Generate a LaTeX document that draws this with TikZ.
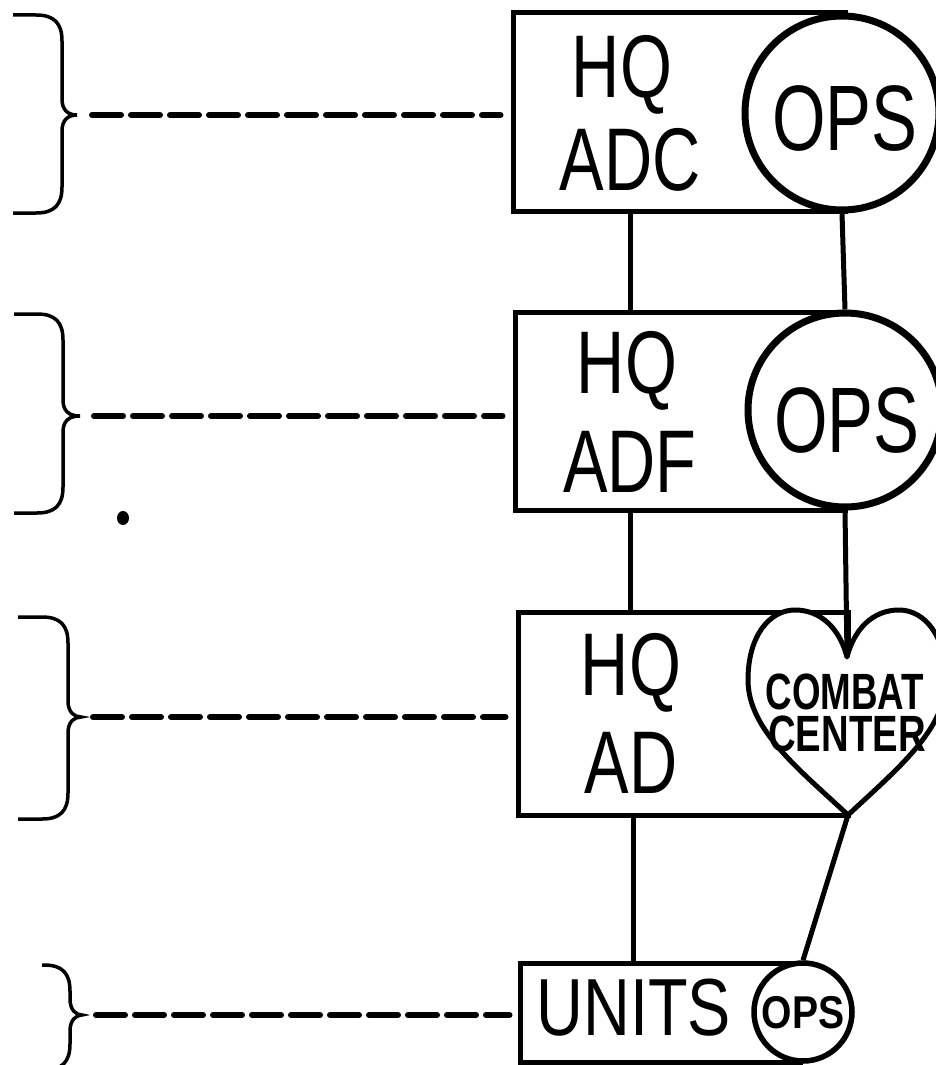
\documentclass[tikz,border=0pt]{standalone}
\usepackage{fontspec}
\usepackage{graphicx}
\setmainfont{Liberation Sans}
\newcommand\sq[2]{\scalebox{#1}[1]{#2}}
% brace: #1 left x, #2 vertical x, #3 tip x, #4 top y, #5 middle y, #6 bottom y, #7 name of tip
\newcommand\drawbrace[7]{%
  \draw[bracestyle] (#1,#4) -- ({#2-26},#4) .. controls ({#2-8},#4) and (#2,{#4+8}) .. (#2,{#4+26})
    -- (#2,{#5-16}) .. controls (#2,{#5-5}) and ({#2+6},#5) .. (#3,#5)
    .. controls ({#2+6},#5) and (#2,{#5+5}) .. (#2,{#5+16})
    -- (#2,{#6-26}) .. controls (#2,{#6-8}) and ({#2-8},#6) .. ({#2-26},#6) -- (#1,#6);
  \coordinate (#7) at (#3,#5);}
\begin{document}
\begin{tikzpicture}[x=1pt,y=-1pt,
  hqbox/.style={draw, line width=5pt, rectangle, inner sep=0pt},
  opscircle/.style={draw, line width=7pt, circle, fill=white, inner sep=0pt},
  link/.style={line width=5pt},
  dashlink/.style={line width=6pt, dash pattern=on 29pt off 10pt, line cap=round},
  bracestyle/.style={line width=3.5pt},
  big/.style={inner sep=0pt, anchor=base, font=\fontsize{89}{89}\selectfont},
  ops/.style={inner sep=0pt, anchor=base, font=\fontsize{93}{93}\selectfont},
  cc/.style={inner sep=0pt, anchor=base, font=\bfseries\fontsize{51}{51}\selectfont},
  units/.style={inner sep=0pt, anchor=base, font=\fontsize{81}{81}\selectfont},
  smallops/.style={inner sep=0pt, anchor=base, font=\bfseries\fontsize{46}{46}\selectfont},
  heartstyle/.style={draw, line width=5pt, fill=white, line join=round}
]
\useasboundingbox (0,0) rectangle (935,1065);

% column coordinates
\coordinate (colL) at (630,0);
\coordinate (colL2) at (633,0);

% boxes
\node[hqbox, minimum width=332pt, minimum height=198pt] (adcbox) at (679,112) {};
\node[hqbox, minimum width=330pt, minimum height=198pt] (adfbox) at (680,411) {};
\node[hqbox, minimum width=330pt, minimum height=203pt] (adbox) at (683,713.5) {};
\node[hqbox, minimum width=280pt, minimum height=99pt] (unitsbox) at (660,1012.5) {};

% circles
\node[opscircle, minimum size=194pt] (ops1) at (842,113) {};
\node[opscircle, minimum size=194pt] (ops2) at (845,410) {};
\node[opscircle, minimum size=98pt, line width=5.5pt] (ops4) at (803,1012) {};

% heart
\draw[heartstyle] (848,815) .. controls (800,770) and (748,730) .. (748,680)
  .. controls (748,635) and (770,610) .. (795,610)
  .. controls (822,610) and (840,630) .. (847,657)
  .. controls (854,630) and (872,610) .. (899,610)
  .. controls (924,610) and (946,635) .. (946,680)
  .. controls (946,730) and (896,770) .. (848,815) -- cycle;
\coordinate (heartdip) at (847,657);
\coordinate (heartbottom) at (848,815);

% texts
\node[big] (hq1) at (622,97) {\sq{0.75}{HQ}};
\node[big] (adc) at (630,190) {\sq{0.75}{ADC}};
\node[ops] (opst1) at (845,150) {\sq{0.74}{OPS}};
\node[big] (hq2) at (627,393) {\sq{0.75}{HQ}};
\node[big] (adf) at (630,492) {\sq{0.75}{ADF}};
\node[ops] (opst2) at (847,452) {\sq{0.74}{OPS}};
\node[big] (hq3) at (631,695) {\sq{0.75}{HQ}};
\node[big] (ad) at (631,793) {\sq{0.75}{AD}};
\node[cc] (combat) at (845,709) {\sq{0.72}{COMBAT}};
\node[cc] (center) at (847,751) {\sq{0.75}{CENTER}};
\node[units] (unitst) at (634,1035) {\sq{0.8}{UNITS}};
\node[smallops] (opst4) at (803,1028) {\sq{0.85}{OPS}};

% connectors
\draw[link] (adcbox.south -| colL) -- (adfbox.north -| colL);
\draw[link] (adfbox.south -| colL) -- (adbox.north -| colL);
\draw[link] (adbox.south -| colL2) -- (unitsbox.north -| colL2);
\draw[link] (ops1.south) -- (ops2.north);
\draw[link] (ops2.south) -- (heartdip);
\draw[link] (heartbottom) -- (ops4.north);

% braces
\drawbrace{13}{62}{77}{15}{115}{213}{tip1}
\drawbrace{14}{63}{80}{314}{416}{513}{tip2}
\drawbrace{18}{68}{81}{617}{717}{819}{tip3}
\drawbrace{42}{70}{82}{965}{1015}{1070}{tip4}

% dashed links
\draw[dashlink] ([xshift=15pt]tip1) -- ([xshift=-10pt]adcbox.west |- tip1);
\draw[dashlink] ([xshift=14pt]tip2) -- ([xshift=-10pt]adfbox.west |- tip2);
\draw[dashlink] ([xshift=12pt]tip3) -- ([xshift=-10pt]adbox.west |- tip3);
\draw[dashlink] ([xshift=14pt]tip4) -- ([xshift=-8pt]unitsbox.west |- tip4);

% ink blot
\fill (123,518) ellipse (6pt and 7pt);
\end{tikzpicture}
\end{document}
